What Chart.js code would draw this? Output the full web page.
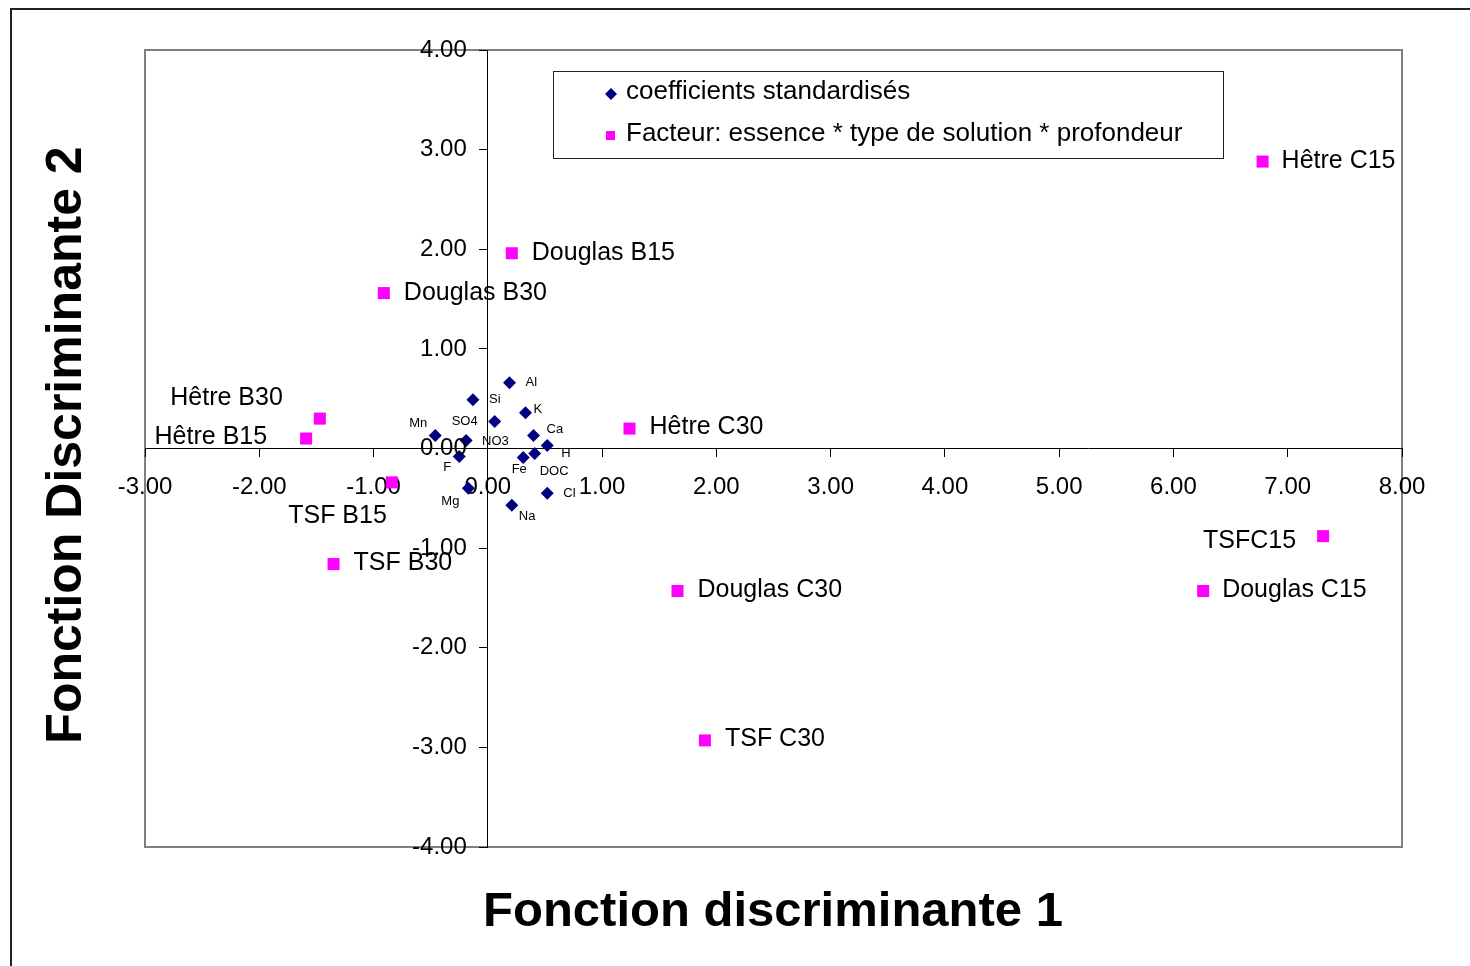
<!DOCTYPE html>
<html>
<head>
<meta charset="utf-8">
<script src="https://cdn.jsdelivr.net/npm/chart.js@4/dist/chart.umd.min.js"></script>
<style>
html,body{margin:0;padding:0;background:#fff;}
#wrap{position:relative;width:1470px;height:966px;}
canvas{display:block;}
</style>
</head>
<body>
<div id="wrap"><canvas id="c" width="1470" height="966"></canvas></div>
<script>
// ---- data ----
const factorLabels = ['Hêtre C15','Douglas B15','Douglas B30','Hêtre B30','Hêtre B15','Hêtre C30','TSF B15','TSF B30','Douglas C30','TSF C30','TSFC15','Douglas C15'];
const factorX = [6.78, 0.21, -0.91, -1.47, -1.59, 1.24, -0.84, -1.35, 1.66, 1.90, 7.31, 6.26];
const factorY = [2.88, 1.96, 1.56, 0.30, 0.10, 0.20, -0.34, -1.16, -1.43, -2.93, -0.88, -1.43];

const coefLabels = ['Al','Si','K','SO4','Ca','Mn','NO3','H','DOC','F','Fe','Mg','Cl','Na'];
const coefX = [0.19, -0.13, 0.33, 0.06, 0.40, -0.46, -0.19, 0.52, 0.41, -0.25, 0.31, -0.17, 0.52, 0.21];
const coefY = [0.66, 0.49, 0.36, 0.27, 0.13, 0.13, 0.08, 0.03, -0.05, -0.08, -0.09, -0.40, -0.45, -0.57];

const xTicks = [-3, -2, -1, 0, 1, 2, 3, 4, 5, 6, 7, 8];
const yTicks = [-4, -3, -2, -1, 0, 1, 2, 3, 4];

const seriesNames = ['coefficients standardisés', 'Facteur: essence * type de solution * profondeur'];
const xTitle = 'Fonction discriminante 1';
const yTitle = 'Fonction Discriminante 2';

// ---- label placement (style only: pixel offsets from each mark) ----
const factorLabelOffsets = [
  [19,0,'left'],[20,0,'left'],[20,0,'left'],[-37,-21,'right'],[-39,-1,'right'],[20,-1,'left'],
  [-5,34,'right'],[20,-1,'left'],[20,-1,'left'],[20,-1,'left'],[-27,5,'right'],[19,-1,'left']
];
const coefLabelOffsets = [
  [16,0,'left'],[16,0,'left'],[8,-3,'left'],[-17,0,'right'],[13,-6,'left'],[-8,-12,'right'],
  [16,1,'left'],[14,8,'left'],[5,18,'left'],[-12,11,'center'],[-4,12,'center'],[-18,13,'center'],
  [16,0,'left'],[7,11,'left']
];

const FONT = '"Liberation Sans", Arial, sans-serif';
const NAVY = '#000080';
const MAGENTA = '#FF00FF';
const fmt = v => Number(v).toFixed(2);

const labelPlugin = {
  id: 'labels',
  beforeDraw(chart) {
    const ctx = chart.ctx;
    ctx.save();
    ctx.fillStyle = '#fff';
    ctx.fillRect(0, 0, chart.width, chart.height);
    // outer frame (top & left)
    ctx.fillStyle = '#222';
    ctx.fillRect(10, 8, chart.width - 10, 2);
    ctx.fillRect(10, 8, 2, chart.height - 8);
    // plot area border
    const a = chart.chartArea;
    ctx.strokeStyle = '#808080';
    ctx.lineWidth = 2;
    ctx.strokeRect(a.left, a.top, a.right - a.left, a.bottom - a.top);
    ctx.restore();
  },
  afterDatasetsDraw(chart) {
    const ctx = chart.ctx;
    ctx.save();
    ctx.fillStyle = '#000';
    ctx.textBaseline = 'middle';
    const m0 = chart.getDatasetMeta(0);
    ctx.font = '13px ' + FONT;
    m0.data.forEach((el, i) => {
      const o = coefLabelOffsets[i];
      ctx.textAlign = o[2];
      ctx.fillText(coefLabels[i], el.x + o[0], el.y + o[1]);
    });
    const m1 = chart.getDatasetMeta(1);
    ctx.font = '25px ' + FONT;
    m1.data.forEach((el, i) => {
      const o = factorLabelOffsets[i];
      ctx.textAlign = o[2];
      ctx.fillText(factorLabels[i], el.x + o[0], el.y + o[1]);
    });
    ctx.restore();
  },
  afterDraw(chart) {
    const ctx = chart.ctx;
    ctx.save();
    // y tick labels, placed left of the crossing axis through the library's scales
    const xs = chart.scales.x, ys = chart.scales.y;
    const axisX = xs.getPixelForValue(0);
    ctx.fillStyle = '#000';
    ctx.font = '24px ' + FONT;
    ctx.textAlign = 'right';
    ctx.textBaseline = 'middle';
    yTicks.forEach(v => ctx.fillText(fmt(v), axisX - 21, ys.getPixelForValue(v)));
    // legend box
    ctx.strokeStyle = '#222';
    ctx.lineWidth = 1;
    ctx.strokeRect(553.5, 71.5, 670, 87);
    ctx.fillStyle = NAVY;
    ctx.beginPath();
    ctx.moveTo(611, 88); ctx.lineTo(617, 94); ctx.lineTo(611, 100); ctx.lineTo(605, 94); ctx.closePath();
    ctx.fill();
    ctx.fillStyle = MAGENTA;
    ctx.fillRect(606, 131, 9, 9);
    ctx.fillStyle = '#000';
    ctx.font = '26px ' + FONT;
    ctx.textAlign = 'left';
    ctx.fillText(seriesNames[0], 626, 92);
    ctx.fillText(seriesNames[1], 626, 134);
    // axis titles
    ctx.textAlign = 'center';
    ctx.font = 'bold 49px ' + FONT;
    ctx.fillText(xTitle, 773, 912);
    ctx.font = 'bold 50px ' + FONT;
    ctx.translate(67, 445);
    ctx.rotate(-Math.PI / 2);
    ctx.fillText(yTitle, 0, 0);
    ctx.restore();
  }
};

new Chart(document.getElementById('c'), {
  type: 'scatter',
  data: {
    datasets: [
      {
        label: seriesNames[0],
        data: coefX.map((x, i) => ({x, y: coefY[i]})),
        pointStyle: 'rectRot',
        pointRadius: 6.5,
        pointHoverRadius: 6.5,
        backgroundColor: NAVY,
        borderColor: NAVY,
        borderWidth: 0
      },
      {
        label: seriesNames[1],
        data: factorX.map((x, i) => ({x, y: factorY[i]})),
        pointStyle: 'rect',
        pointRadius: 8.5,
        pointHoverRadius: 8.5,
        backgroundColor: MAGENTA,
        borderColor: MAGENTA,
        borderWidth: 0
      }
    ]
  },
  options: {
    responsive: false,
    animation: false,
    devicePixelRatio: 1,
    events: [],
    layout: { padding: { left: 145, top: 50, right: 68, bottom: 119 } },
    plugins: { legend: { display: false }, tooltip: { enabled: false } },
    scales: {
      x: {
        type: 'linear',
        min: -3, max: 8,
        position: { y: 0 },
        z: 1,
        afterFit: s => { s.height = 0; },
        afterBuildTicks: s => { s.ticks = xTicks.map(v => ({ value: v })); },
        grid: { drawOnChartArea: false, drawTicks: true, tickLength: 8, color: '#000', tickColor: '#000' },
        border: { display: true, color: '#000', width: 1 },
        ticks: { callback: fmt, color: '#000', font: { family: FONT, size: 24 }, padding: 16, maxRotation: 0, autoSkip: false }
      },
      y: {
        type: 'linear',
        min: -4, max: 4,
        position: { x: 0 },
        z: 1,
        afterFit: s => { s.width = 0; },
        afterBuildTicks: s => { s.ticks = yTicks.map(v => ({ value: v })); },
        grid: { drawOnChartArea: false, drawTicks: true, tickLength: 8, color: '#000', tickColor: '#000' },
        border: { display: true, color: '#000', width: 1 },
        ticks: { display: false, callback: fmt, autoSkip: false }
      }
    }
  },
  plugins: [labelPlugin]
});
</script>
</body>
</html>
